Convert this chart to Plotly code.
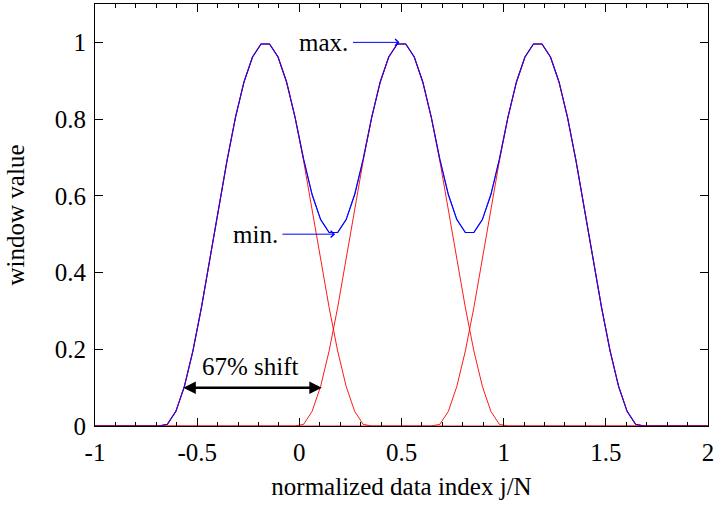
import plotly.graph_objects as go

# samples: half-step offset grid on -1 .. 2, step 1/24, plus the two range ends
x_step = 1.0 / 24.0
x_vals = [-1.0] + [-1.0 + (k + 0.5) * x_step for k in range(72)] + [2.0]
n_points = len(x_vals)

# one window profile, 24 samples across a width of 1
window_profile = [0.0043, 0.0381, 0.1033, 0.1956, 0.3087, 0.4347, 0.5653, 0.6913,
                  0.8044, 0.8967, 0.9619, 0.9957, 0.9957, 0.9619, 0.8967, 0.8044,
                  0.6913, 0.5653, 0.4347, 0.3087, 0.1956, 0.1033, 0.0381, 0.0043]

# first sample of each of the three shifted windows (x = -2/3, 0, 2/3)
window_start_index = [9, 25, 41]

# annotation values
max_point = (0.49, 1.0)
max_tail_x = 0.255
min_point = (0.175, 0.5)
min_tail_x = -0.09
shift_arrow = (-0.575, 0.11, 0.10)
shift_label = "67% shift"

windows = []
for s in window_start_index:
    w = [0.0] * n_points
    for i, v in enumerate(window_profile):
        w[s + i] = v
    windows.append(w)
total = [sum(ws) for ws in zip(*windows)]

FONT = "Liberation Serif, Times New Roman, Times, serif"
FS = 25

fig = go.Figure()
fig.add_trace(go.Scatter(x=x_vals, y=total, mode="lines",
                         line=dict(color="#0000ff", width=1.1), showlegend=False))
for w in windows:
    fig.add_trace(go.Scatter(x=x_vals, y=w, mode="lines",
                             line=dict(color="rgba(255,0,0,0.9)", width=1.0), showlegend=False))
fig.add_trace(go.Scatter(x=x_vals, y=total, mode="lines",
                         line=dict(color="rgba(0,0,255,0.7)", width=1.1), showlegend=False))

tf = dict(family=FONT, size=FS, color="black")
ann = []
ann.append(dict(x=max_point[0], y=max_point[1], ax=max_tail_x, ay=max_point[1],
                xref="x", yref="y", axref="x", ayref="y", text="", showarrow=True,
                arrowhead=4, arrowsize=1.3, arrowwidth=1, arrowcolor="#0000ff", standoff=0))
ann.append(dict(x=max_tail_x - 0.005, y=max_point[1], text="max.", showarrow=False,
                xanchor="right", yanchor="middle", font=tf))
ann.append(dict(x=min_point[0], y=min_point[1], ax=min_tail_x, ay=min_point[1],
                xref="x", yref="y", axref="x", ayref="y", text="", showarrow=True,
                arrowhead=4, arrowsize=1.3, arrowwidth=1, arrowcolor="#0000ff", standoff=0))
ann.append(dict(x=min_tail_x - 0.005, y=min_point[1], text="min.", showarrow=False,
                xanchor="right", yanchor="middle", font=tf))
ann.append(dict(x=shift_arrow[1], y=shift_arrow[2], ax=shift_arrow[0], ay=shift_arrow[2],
                xref="x", yref="y", axref="x", ayref="y", text="", showarrow=True,
                arrowhead=2, startarrowhead=2, arrowside="end+start", arrowsize=1,
                startarrowsize=1, arrowwidth=2.5, arrowcolor="black", standoff=0, startstandoff=0))
ann.append(dict(x=-0.237, y=0.155, text=shift_label,
                showarrow=False, xanchor="center", yanchor="middle", font=tf))

fig.update_layout(
    width=715, height=506,
    margin=dict(l=95, r=7, t=4, b=80),
    paper_bgcolor="white", plot_bgcolor="white",
    font=tf,
    annotations=ann,
    showlegend=False,
)
fig.update_xaxes(range=[-1, 2], tickvals=[-1, -0.5, 0, 0.5, 1, 1.5, 2],
                 ticktext=["-1", "-0.5", "0", "0.5", "1", "1.5", "2"],
                 ticks="inside", ticklen=8, tickcolor="black", tickwidth=1,
                 minor=dict(dtick=0.1, tick0=0, ticks="inside", ticklen=4, tickcolor="black", showgrid=False),
                 showline=True, linecolor="black", linewidth=1, mirror="allticks",
                 showgrid=False, zeroline=False, automargin=False,
                 tickfont=tf, ticklabelstandoff=4,
                 title=dict(text="normalized data index j/N", standoff=12, font=tf))
fig.update_yaxes(range=[0, 1.1], tickvals=[0, 0.2, 0.4, 0.6, 0.8, 1.0],
                 ticktext=["0", "0.2", "0.4", "0.6", "0.8", "1"],
                 ticks="inside", ticklen=8, tickcolor="black", tickwidth=1,
                 showline=True, linecolor="black", linewidth=1, mirror="allticks",
                 showgrid=False, zeroline=False, automargin=False,
                 tickfont=tf, ticklabelstandoff=3,
                 title=dict(text="window value", standoff=23, font=tf))

fig.write_html("out.html", config={"displayModeBar": False},
               post_script="document.body.style.margin='0px';")
